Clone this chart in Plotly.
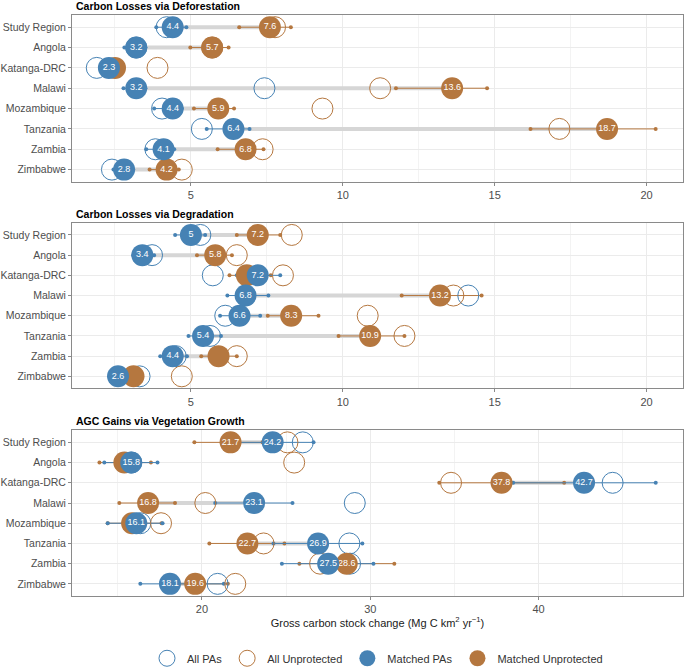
import plotly.graph_objects as go

categories = ["Study Region", "Angola", "Katanga-DRC", "Malawi", "Mozambique", "Tanzania", "Zambia", "Zimbabwe"]

panel_titles = ["Carbon Losses via Deforestation", "Carbon Losses via Degradation", "AGC Gains via Vegetation Growth"]

# Panel 1: Deforestation
defo_all_pa = [4.2, 3.2, 1.9, 7.42, 4.05, 5.36, 3.83, 2.4]
defo_all_un = [7.77, 5.7, 3.9, 11.23, 9.33, 17.13, 7.36, 4.7]
defo_pa = [4.4, 3.2, 2.3, 3.2, 4.4, 6.4, 4.1, 2.8]
defo_pa_lo = [3.86, 2.81, 2.2, 2.78, 3.79, 5.52, 3.53, 2.45]
defo_pa_hi = [4.85, 3.5, 2.4, 3.5, 4.7, 6.93, 4.45, 3.1]
defo_un = [7.6, 5.7, 2.5, 13.6, 5.9, 18.7, 6.8, 4.2]
defo_un_lo = [6.59, 4.98, 2.3, 11.75, 5.1, 16.18, 5.88, 3.64]
defo_un_hi = [8.29, 6.24, 2.7, 14.75, 6.42, 20.3, 7.39, 4.6]
defo_pa_lab = ["4.4", "3.2", "2.3", "3.2", "4.4", "6.4", "4.1", "2.8"]
defo_un_lab = ["7.6", "5.7", None, "13.6", "5.9", "18.7", "6.8", "4.2"]

# Panel 2: Degradation
degr_all_pa = [5.31, 3.72, 5.72, 14.13, 6.13, 5.63, 4.5, 3.31]
degr_all_un = [8.32, 6.51, 8.03, 13.64, 10.82, 12.03, 6.51, 4.7]
degr_pa = [5.0, 3.4, 7.2, 6.8, 6.6, 5.4, 4.4, 2.6]
degr_pa_lo = [4.48, 3.1, 6.51, 6.2, 5.96, 4.92, 3.99, 2.4]
degr_pa_hi = [5.47, 3.79, 7.94, 7.55, 7.28, 5.99, 4.87, 2.8]
degr_un = [7.2, 5.8, 6.84, 13.2, 8.3, 10.9, 5.91, 3.11]
degr_un_lo = [6.51, 5.2, 6.27, 11.94, 7.53, 9.86, 5.34, 2.9]
degr_un_hi = [7.94, 6.35, 7.63, 14.57, 9.2, 12.03, 6.51, 3.3]
degr_pa_lab = ["5", "3.4", "7.2", "6.8", "6.6", "5.4", "4.4", "2.6"]
degr_un_lab = ["7.2", "5.8", None, "13.2", "8.3", "10.9", None, None]

# Panel 3: AGC gains
agc_all_pa = [25.99, 15.8, 44.4, 29.08, 16.34, 28.76, 28.8, 20.93]
agc_all_un = [25.08, 25.48, 34.8, 20.2, 17.57, 23.66, 27.02, 21.98]
agc_pa = [24.2, 15.8, 42.7, 23.1, 16.1, 26.9, 27.5, 18.1]
agc_pa_lo = [22.0, 14.2, 38.49, 20.79, 14.4, 24.25, 24.75, 16.34]
agc_pa_hi = [26.63, 17.36, 46.96, 25.38, 17.66, 29.53, 30.19, 21.3]
agc_un = [21.7, 15.39, 37.8, 16.8, 15.85, 22.7, 28.6, 19.6]
agc_un_lo = [19.55, 13.91, 34.1, 15.09, 14.4, 20.44, 25.79, 18.0]
agc_un_hi = [23.6, 16.97, 41.52, 18.4, 17.6, 24.9, 31.43, 21.54]
agc_pa_lab = ["24.2", "15.8", "42.7", "23.1", "16.1", "26.9", "27.5", "18.1"]
agc_un_lab = ["21.7", None, "37.8", "16.8", None, "22.7", "28.6", "19.6"]

panels = [
    (defo_all_pa, defo_all_un, defo_pa, defo_pa_lo, defo_pa_hi, defo_un, defo_un_lo, defo_un_hi, defo_pa_lab, defo_un_lab),
    (degr_all_pa, degr_all_un, degr_pa, degr_pa_lo, degr_pa_hi, degr_un, degr_un_lo, degr_un_hi, degr_pa_lab, degr_un_lab),
    (agc_all_pa, agc_all_un, agc_pa, agc_pa_lo, agc_pa_hi, agc_un, agc_un_lo, agc_un_hi, agc_pa_lab, agc_un_lab),
]

BLUE = "#4682B4"
ORANGE = "#B5773F"
GREY = "#D6D6D6"
FONT = "Liberation Sans"


def seg(a, b):
    xs, ys = [], []
    for i, c in enumerate(categories):
        xs += [a[i], b[i], None]
        ys += [c, c, None]
    return xs, ys


fig = go.Figure()

for p, (all_pa, all_un, pa, pa_lo, pa_hi, un, un_lo, un_hi, pa_lab, un_lab) in enumerate(panels):
    xa = "x" if p == 0 else f"x{p+1}"
    ya = "y" if p == 0 else f"y{p+1}"
    first = p == 0
    gx, gy = seg(pa, un)
    fig.add_trace(go.Scatter(x=gx, y=gy, mode="lines", line=dict(color=GREY, width=4),
                             showlegend=False, hoverinfo="skip", xaxis=xa, yaxis=ya))
    ex, ey = seg(un_lo, un_hi)
    fig.add_trace(go.Scatter(x=ex, y=ey, mode="lines+markers", line=dict(color=ORANGE, width=1),
                             marker=dict(size=4, color=ORANGE), showlegend=False, xaxis=xa, yaxis=ya))
    ex, ey = seg(pa_lo, pa_hi)
    fig.add_trace(go.Scatter(x=ex, y=ey, mode="lines+markers", line=dict(color=BLUE, width=1),
                             marker=dict(size=4, color=BLUE), showlegend=False, xaxis=xa, yaxis=ya))
    fig.add_trace(go.Scatter(x=all_pa, y=categories, mode="markers", name="All PAs",
                             legendgroup="allpa", showlegend=first, legendrank=1,
                             marker=dict(size=21, color="rgba(0,0,0,0)", line=dict(color=BLUE, width=1)),
                             xaxis=xa, yaxis=ya))
    fig.add_trace(go.Scatter(x=all_un, y=categories, mode="markers", name="All Unprotected",
                             legendgroup="allun", showlegend=first, legendrank=2,
                             marker=dict(size=21, color="rgba(0,0,0,0)", line=dict(color=ORANGE, width=1)),
                             xaxis=xa, yaxis=ya))
    fig.add_trace(go.Scatter(x=un, y=categories, mode="markers+text", name="Matched Unprotected",
                             legendgroup="mun", showlegend=first, legendrank=4,
                             text=un_lab, textposition="middle center",
                             textfont=dict(color="white", size=9, family=FONT),
                             marker=dict(size=22, color=ORANGE, line=dict(width=0)),
                             xaxis=xa, yaxis=ya))
    fig.add_trace(go.Scatter(x=pa, y=categories, mode="markers+text", name="Matched PAs",
                             legendgroup="mpa", showlegend=first, legendrank=3,
                             text=pa_lab, textposition="middle center",
                             textfont=dict(color="white", size=9, family=FONT),
                             marker=dict(size=22, color=BLUE, line=dict(width=0)),
                             xaxis=xa, yaxis=ya))

domains = [[0.7129, 1.0], [0.3572, 0.6423], [0.0, 0.2853]]
xranges = [[1.085, 21.2], [1.085, 21.2], [12.28, 48.58]]
xdticks = [5, 5, 10]

axis_common = dict(showline=True, linecolor="#8A8A8A", linewidth=1, mirror=True,
                   ticks="outside", ticklen=3, tickcolor="#8A8A8A", automargin=False,
                   tickfont=dict(family=FONT, size=11, color="#4D4D4D"),
                   gridcolor="#EBEBEB", gridwidth=1, zeroline=False)

layout = dict(
    width=685, height=671,
    margin=dict(l=72, r=2, t=15, b=75, autoexpand=False),
    plot_bgcolor="white", paper_bgcolor="white",
    font=dict(family=FONT, color="#333333"),
    showlegend=True,
    legend=dict(orientation="h", xref="paper", yref="container", x=0.5, y=0.019,
                xanchor="center", yanchor="middle", font=dict(size=11, color="#333333"),
                itemsizing="trace", traceorder="normal"),
    annotations=[],
)

for p in range(3):
    xk = "xaxis" if p == 0 else f"xaxis{p+1}"
    yk = "yaxis" if p == 0 else f"yaxis{p+1}"
    ya = "y" if p == 0 else f"y{p+1}"
    xa = "x" if p == 0 else f"x{p+1}"
    xd = dict(axis_common, domain=[0, 1], anchor=ya, range=xranges[p], dtick=xdticks[p], tick0=0,
              minor=dict(dtick=xdticks[p] / 2, tick0=0, showgrid=True, gridcolor="#F3F3F3", gridwidth=0.6, ticks=""))
    if p == 2:
        xd["title"] = dict(text="Gross carbon stock change (Mg C km<sup>2</sup> yr<sup>\u22121</sup>)",
                           font=dict(family=FONT, size=11, color="#1A1A1A"), standoff=4)
    layout[xk] = xd
    yd = dict(axis_common, domain=domains[p], anchor=xa, type="category",
              categoryorder="array", categoryarray=categories, range=[7.6, -0.6])
    yd["tickfont"] = dict(family=FONT, size=10.5, color="#4D4D4D")
    layout[yk] = yd
    layout["annotations"].append(dict(text=f"<b>{panel_titles[p]}</b>", xref="paper", yref="paper",
                                      x=0, y=domains[p][1], xanchor="left", yanchor="bottom",
                                      xshift=2, yshift=1, showarrow=False,
                                      font=dict(family=FONT, size=10.5, color="#000000")))

fig.update_layout(**layout)
fig.write_html("out.html", config={"displayModeBar": False},
               post_script="document.body.style.margin='0';")
